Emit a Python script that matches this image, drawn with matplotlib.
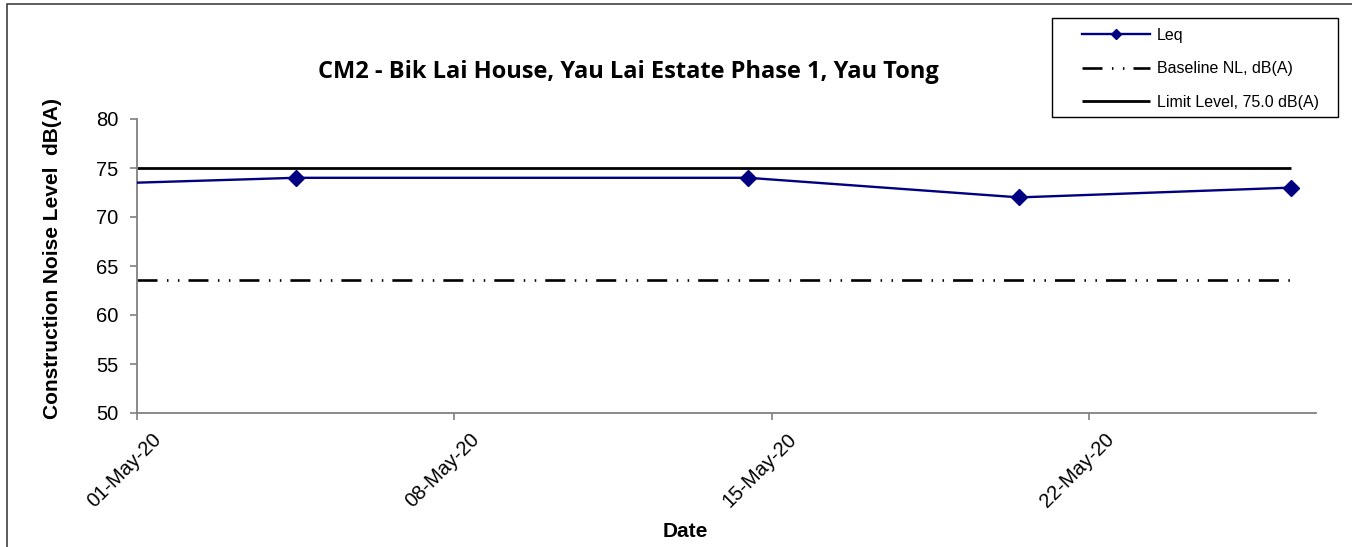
import matplotlib
matplotlib.use("Agg")
import matplotlib.pyplot as plt
import matplotlib.dates as mdates
import matplotlib.transforms as mtransforms
from matplotlib.patches import Rectangle
import numpy as np
import datetime as dt

plt.rcParams['font.family'] = ['Liberation Sans', 'DejaVu Sans']
plt.rcParams['lines.scale_dashes'] = False

# Data
leq_dates = ["2020-04-27 11:00", "2020-05-04 12:00", "2020-05-14 11:30",
             "2020-05-20 11:00", "2020-05-26 11:00"]
leq_values = [73.0, 74.0, 74.0, 72.0, 73.0]
line_dates = ["2020-05-01 00:00", "2020-05-26 11:00"]
baseline_level = 63.6
limit_level = 75.0
xtick_dates = ["2020-05-01", "2020-05-08", "2020-05-15", "2020-05-22"]

def parse(s):
    return dt.datetime.fromisoformat(s)

ld = [parse(s) for s in leq_dates]
lnd = [parse(s) for s in line_dates]

W, H = 1352, 547
fig = plt.figure(figsize=(W/100, H/100), dpi=100)
ax = fig.add_axes([137/W, 1-413/H, (1316-137)/W, (413-119)/H])

l_limit, = ax.plot(lnd, [limit_level]*2, color='black', lw=2.0, solid_capstyle='butt',
                   label='Limit Level, 75.0 dB(A)', zorder=2)
l_base, = ax.plot(lnd, [baseline_level]*2, color='black', lw=1.9,
                  dashes=(14.4, 6.8, 1.1, 6.8, 1.1, 6.5), dash_capstyle='butt',
                  label='Baseline NL, dB(A)', zorder=2)
l_leq, = ax.plot(ld, leq_values, color='#000080', lw=1.7, marker='D', markersize=8,
                 markerfacecolor='#000080', markeredgecolor='#000080', label='Leq', zorder=3)

ax.set_xlim(parse("2020-05-01"), parse("2020-05-27"))
ax.set_ylim(50, 80)
ax.set_yticks(np.arange(50, 81, 5))
ax.set_xticks([parse(s) for s in xtick_dates])
ax.xaxis.set_major_formatter(mdates.DateFormatter('%d-%b-%y'))

for s in ['top', 'right']:
    ax.spines[s].set_visible(False)
for s in ['left', 'bottom']:
    ax.spines[s].set_color('#808080')
    ax.spines[s].set_linewidth(1.3)
ax.tick_params(axis='both', direction='out', length=5, width=1.2, color='#808080',
               labelsize=14.5, labelcolor='black')
ax.tick_params(axis='y', pad=8.5)
ax.tick_params(axis='x', pad=7)
offset = mtransforms.ScaledTranslation(15/100, 0, fig.dpi_scale_trans)
for lab in ax.get_xticklabels():
    lab.set_rotation(45)
    lab.set_ha('right')
    lab.set_va('top')
    lab.set_rotation_mode('anchor')
    lab.set_transform(lab.get_transform() + offset)

ax.set_ylabel('Construction Noise Level  dB(A)', fontsize=15, fontweight='bold')
ax.yaxis.set_label_coords((62-137)/1179, 0.527)
ax.set_xlabel('Date', fontsize=15, fontweight='bold', va='top')
ax.xaxis.set_label_coords((685-137)/1179, -(522-413)/294)

fig.text(628/W, 1-72/H, 'CM2 - Bik Lai House, Yau Lai Estate Phase 1, Yau Tong',
         ha='center', va='center', fontsize=17, fontweight='bold',
         family=['Open Sans', 'DejaVu Sans'])

# legend (frameless) plus a separate frame box
leg = fig.legend([l_leq, l_base, l_limit],
                 ['Leq', 'Baseline NL, dB(A)', 'Limit Level, 75.0 dB(A)'],
                 loc='upper left', bbox_to_anchor=(1082/W, 1-28/H),
                 frameon=False, fontsize=11.5, borderpad=0, borderaxespad=0,
                 handlelength=4.25, handletextpad=0.45, labelspacing=1.15,
                 markerscale=0.65)
fig.add_artist(Rectangle((1052/W, 1-117/H), (1338-1052)/W, (117-18)/H,
                         transform=fig.transFigure, fill=False,
                         edgecolor='black', lw=1.0))

# chart area border
fig.add_artist(Rectangle((7/W, -0.1), 1.2, 1.1 - 4/H, transform=fig.transFigure,
                         fill=False, edgecolor='#404040', lw=1.2))

fig.savefig('out.png', dpi=100)
